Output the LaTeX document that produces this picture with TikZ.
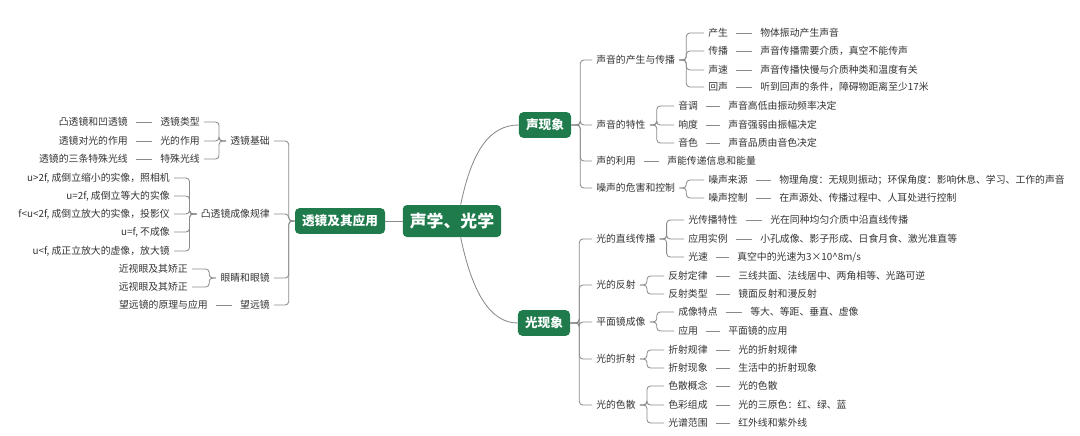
\documentclass[tikz,border=0pt]{standalone}
\usepackage{fontspec}
\setmainfont{Noto Sans CJK SC}
\definecolor{mapgreen}{HTML}{1F7A4C}
\definecolor{linegray}{HTML}{8A8A8A}
\definecolor{txtgray}{HTML}{333333}
\begin{document}
\begin{tikzpicture}[x=0.025cm, y=-0.025cm,
    box/.style={fill=mapgreen, rounded corners=3pt, text=white, font=\bfseries\fontsize{9}{10}\selectfont, inner xsep=5pt, minimum height=0.64cm},
    rootbox/.style={box, font=\bfseries\fontsize{12}{13}\selectfont, minimum height=0.8cm},
    rt/.style={anchor=west, text=txtgray, font=\fontsize{7}{8}\selectfont, inner xsep=0.1cm, inner ysep=1pt},
    lt/.style={rt, anchor=east},
    con/.style={draw=linegray, line width=0.6pt},
    leafline/.style={con, shorten <=0.1cm, shorten >=0.1cm},
    br/.style={con, rounded corners=2.5pt}]
  \useasboundingbox (0,0) rectangle (1080,435);

  % Centre and main branches
  \node[rootbox] (root) at (452,221) {声学、光学};
  \node[box] (snd) at (545,125) {声现象};
  \node[box] (lgt) at (544,323) {光现象};
  \node[box] (lens) at (340,221) {透镜及其应用};
  \draw[con] (root.62) .. controls (472,150) and (490,125) .. (snd.west);
  \draw[con] (root.-62) .. controls (472,292) and (490,323) .. (lgt.west);
  \draw[con] (root.west) -- (lens.east);

  % Sound
  \node[rt] (s1) at (592,60) {声音的产生与传播};
  \node[rt] (s2) at (592,125) {声音的特性};
  \node[rt] (s3) at (592,161) {声的利用};
  \node[rt] (s4) at (592,188) {噪声的危害和控制};
  \foreach \c in {s1,s2,s3,s4} \draw[br] (snd.east) -- ++(9,0) |- (\c.west);

  \node[rt] (s11) at (704,33) {产生};
  \node[rt] (s12) at (704,51) {传播};
  \node[rt] (s13) at (704,70) {声速};
  \node[rt] (s14) at (704,87) {回声};
  \node[rt] (s11l) at (756,33) {物体振动产生声音};
  \node[rt] (s12l) at (756,51) {声音传播需要介质，真空不能传声};
  \node[rt] (s13l) at (756,70) {声音传播快慢与介质种类和温度有关};
  \node[rt] (s14l) at (756,87) {听到回声的条件，障碍物距离至少17米};
  \node[rt] (s21) at (674,106) {音调};
  \node[rt] (s22) at (674,125) {响度};
  \node[rt] (s23) at (674,143) {音色};
  \node[rt] (s21l) at (724,106) {声音高低由振动频率决定};
  \node[rt] (s22l) at (724,125) {声音强弱由振幅决定};
  \node[rt] (s23l) at (724,143) {声音品质由音色决定};
  \node[rt] (s3l) at (663,161) {声能传递信息和能量};
  \node[rt] (s41) at (704,180) {噪声来源};
  \node[rt] (s42) at (704,198) {噪声控制};
  \node[rt] (s41l) at (775,180) {物理角度：无规则振动；环保角度：影响休息、学习、工作的声音};
  \node[rt] (s42l) at (775,198) {在声源处、传播过程中、人耳处进行控制};
  \foreach \c in {s11,s12,s13,s14} \draw[br] (s1.east) -- ++(7,0) |- (\c.west);
  \foreach \c in {s21,s22,s23} \draw[br] (s2.east) -- ++(7,0) |- (\c.west);
  \foreach \c in {s41,s42} \draw[br] (s4.east) -- ++(7,0) |- (\c.west);
  \foreach \c in {s11,s12,s13,s14,s21,s22,s23,s3,s41,s42} \draw[leafline] (\c.east) -- (\c l.west);

  % Light
  \node[rt] (l1) at (592,239) {光的直线传播};
  \node[rt] (l2) at (592,285) {光的反射};
  \node[rt] (l3) at (592,322) {平面镜成像};
  \node[rt] (l4) at (592,359) {光的折射};
  \node[rt] (l5) at (592,405) {光的色散};
  \foreach \c in {l1,l2,l3,l4,l5} \draw[br] (lgt.east) -- ++(9,0) |- (\c.west);

  \node[rt] (l11) at (684,220) {光传播特性};
  \node[rt] (l12) at (684,239) {应用实例};
  \node[rt] (l13) at (684,257) {光速};
  \node[rt] (l11l) at (766,220) {光在同种均匀介质中沿直线传播};
  \node[rt] (l12l) at (756,239) {小孔成像、影子形成、日食月食、激光准直等};
  \node[rt] (l13l) at (733,257) {真空中的光速为3×10\^{}8m/s};
  \node[rt] (l21) at (664,276) {反射定律};
  \node[rt] (l22) at (664,294) {反射类型};
  \node[rt] (l21l) at (734,276) {三线共面、法线居中、两角相等、光路可逆};
  \node[rt] (l22l) at (734,294) {镜面反射和漫反射};
  \node[rt] (l31) at (674,312) {成像特点};
  \node[rt] (l32) at (674,331) {应用};
  \node[rt] (l31l) at (746,312) {等大、等距、垂直、虚像};
  \node[rt] (l32l) at (724,331) {平面镜的应用};
  \node[rt] (l41) at (664,350) {折射规律};
  \node[rt] (l42) at (664,368) {折射现象};
  \node[rt] (l41l) at (734,350) {光的折射规律};
  \node[rt] (l42l) at (734,368) {生活中的折射现象};
  \node[rt] (l51) at (664,386) {色散概念};
  \node[rt] (l52) at (664,405) {色彩组成};
  \node[rt] (l53) at (664,423) {光谱范围};
  \node[rt] (l51l) at (734,386) {光的色散};
  \node[rt] (l52l) at (734,405) {光的三原色：红、绿、蓝};
  \node[rt] (l53l) at (734,423) {红外线和紫外线};
  \foreach \c in {l11,l12,l13} \draw[br] (l1.east) -- ++(7,0) |- (\c.west);
  \foreach \c in {l21,l22} \draw[br] (l2.east) -- ++(7,0) |- (\c.west);
  \foreach \c in {l31,l32} \draw[br] (l3.east) -- ++(7,0) |- (\c.west);
  \foreach \c in {l41,l42} \draw[br] (l4.east) -- ++(7,0) |- (\c.west);
  \foreach \c in {l51,l52,l53} \draw[br] (l5.east) -- ++(7,0) |- (\c.west);
  \foreach \c in {l11,l12,l13,l21,l22,l31,l32,l41,l42,l51,l52,l53} \draw[leafline] (\c.east) -- (\c l.west);

  % Lenses
  \node[lt] (t1) at (274,141) {透镜基础};
  \node[lt] (t2) at (274,214) {凸透镜成像规律};
  \node[lt] (t3) at (274,278) {眼睛和眼镜};
  \node[lt] (t4) at (274,305) {望远镜};
  \foreach \c in {t1,t2,t3,t4} \draw[br] (lens.west) -- ++(-6,0) |- (\c.east);

  \node[lt] (t11) at (204,122) {透镜类型};
  \node[lt] (t12) at (204,141) {光的作用};
  \node[lt] (t13) at (204,159) {特殊光线};
  \node[lt] (t11l) at (132,122) {凸透镜和凹透镜};
  \node[lt] (t12l) at (132,141) {透镜对光的作用};
  \node[lt] (t13l) at (132,159) {透镜的三条特殊光线};
  \node[lt] (t21) at (174,178) {u>2f, 成倒立缩小的实像，照相机};
  \node[lt] (t22) at (174,196) {u=2f, 成倒立等大的实像};
  \node[lt] (t23) at (174,214) {f<u<2f, 成倒立放大的实像，投影仪};
  \node[lt] (t24) at (174,232) {u=f, 不成像};
  \node[lt] (t25) at (174,251) {u<f, 成正立放大的虚像，放大镜};
  \node[lt] (t31) at (192,269) {近视眼及其矫正};
  \node[lt] (t32) at (192,287) {远视眼及其矫正};
  \node[lt] (t4l) at (212,305) {望远镜的原理与应用};
  \foreach \c in {t11,t12,t13} \draw[br] (t1.west) -- ++(-7,0) |- (\c.east);
  \foreach \c in {t21,t22,t23,t24,t25} \draw[br] (t2.west) -- ++(-7,0) |- (\c.east);
  \foreach \c in {t31,t32} \draw[br] (t3.west) -- ++(-7,0) |- (\c.east);
  \foreach \c in {t11,t12,t13,t4} \draw[leafline] (\c.west) -- (\c l.east);
\end{tikzpicture}
\end{document}
